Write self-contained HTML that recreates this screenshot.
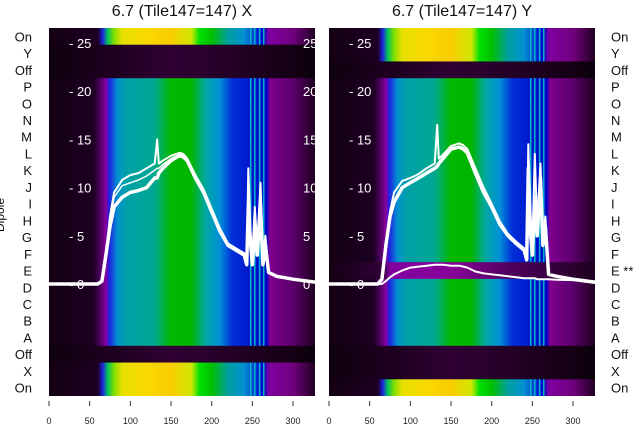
<!DOCTYPE html>
<html><head><meta charset="utf-8"><style>
html,body{margin:0;padding:0;background:#fff;}
svg{display:block;font-family:"Liberation Sans","DejaVu Sans",sans-serif;}
</style></head><body>
<svg id="chart" width="640" height="440" viewBox="0 0 640 440" xmlns="http://www.w3.org/2000/svg">
<defs id="defs"></defs>
<g id="root"></g>
</svg>
<script>
// ---- data ----
const rowLabels = ["On","Y","Off","P","O","N","M","L","K","J","I","H","G","F","E","D","C","B","A","Off","X","On"];
const rowTypesX = ["on","off","off","mid","mid","mid","mid","mid","mid","mid","mid","mid","mid","mid","mid","mid","mid","mid","mid","off","on","on"];
const rowTypesY = ["on","on","off","mid","mid","mid","mid","mid","mid","mid","mid","mid","mid","mid","faint","mid","mid","mid","mid","off","off","on"];
const xTicks = [0,50,100,150,200,250,300];
const yTicks = [0,5,10,15,20,25];
const sampleX = [0,60,65,70,75,80,90,100,110,120,130,133,135,140,150,160,165,170,180,190,200,210,220,230,240,243,245,248,250,253,256,260,263,266,270,280,300,327];
const xLow  = [0,0,0.3,3,6,8,9,9.5,9.7,10,11,11,11.5,12,12.8,13.3,13.2,12.8,11,9.5,7.5,5.5,4,3.5,3,2,8,4,2,6,3,8,2,4,1.2,0.8,0.5,0.2];
const xMid  = [0,0,0.3,3,6.5,9,10.2,10.5,10.8,11.2,11.8,12,12,12.4,13,13.4,13.3,12.9,11.1,9.6,7.6,5.6,4.1,3.6,3.1,2,10,4.5,2.5,7,3.5,9,2.5,4.5,1.2,0.8,0.5,0.2];
const xHigh = [0,0,0.3,3,7,9.5,10.8,11.3,11.5,12,12.5,15,12.5,12.8,13.3,13.6,13.5,13,11.3,9.8,7.8,5.8,4.2,3.7,3.2,2,12,5,3,8,4,10.5,3,5,1.2,0.8,0.5,0.2];
const yLow  = [0,0,0.5,4,7,8.5,10,10.5,11,11.5,12,12.2,12.5,13,14,14.2,14,13.6,11.5,9.5,8,6.2,5,4.2,3.5,2.5,12,5,3,9,5,11,4,6,1,0.8,0.5,0.2];
const yHigh = [0,0,0.5,4,7.5,9.5,10.7,11,11.4,12,12.5,16.5,13,13.4,14.3,14.6,14.4,14,12,10,8.3,6.5,5.2,4.4,3.7,2.5,14.5,6,4,13.5,6,12.5,4.5,7,1,0.8,0.5,0.2];
const yRowE = [0,0,0,0.3,0.7,1,1.4,1.7,1.8,1.9,2,2,2,2,1.9,1.9,1.8,1.7,1.3,1.1,1,0.9,0.8,0.7,0.6,0.6,0.6,0.6,0.6,0.6,0.5,0.5,0.5,0.5,0.5,0.45,0.4,0.1];

const stopsMid = [[0,"#140014"],[55,"#1c0022"],[64,"#55006a"],[70,"#8a00a0"],[74,"#2020e0"],[84,"#0090d0"],[95,"#00a0a8"],[130,"#00a890"],[150,"#00b800"],[175,"#00b400"],[192,"#00a8a0"],[210,"#0090d8"],[225,"#0030d8"],[268,"#0000c8"],[271,"#800090"],[300,"#5c006c"],[327,"#1e001e"]];
const stopsOn = [[0,"#140014"],[60,"#1c0022"],[66,"#2020e0"],[72,"#00c060"],[80,"#80e000"],[90,"#e8e000"],[120,"#f8d800"],[150,"#f8cc00"],[175,"#d0e800"],[185,"#00e000"],[200,"#00c000"],[220,"#00a0a0"],[240,"#0090d0"],[262,"#0000d0"],[271,"#8000a0"],[300,"#70007e"],[327,"#200020"]];
const stopsOff = [[0,"#0e000e"],[80,"#1e0020"],[150,"#300034"],[220,"#260028"],[300,"#140014"],[327,"#0a000a"]];
const stopsFaint = [[0,"#140014"],[66,"#300038"],[75,"#8000a0"],[150,"#8a009a"],[220,"#500060"],[327,"#1e001e"]];
const stripeX = [247,252,258,263];

const NS="http://www.w3.org/2000/svg";
const root=document.getElementById('root');
const defs=document.getElementById('defs');
function mk(tag,attrs,parent){const e=document.createElementNS(NS,tag);for(const k in attrs)e.setAttribute(k,attrs[k]);(parent||root).appendChild(e);return e;}

const TOP=28, BOT=396, RH=(BOT-TOP)/22, W=266, XMAX=327;
const y0=284, yScale=9.64;
function grad(id,stops){
  const g=mk('linearGradient',{id:id,x1:0,x2:1,y1:0,y2:0},defs);
  stops.forEach(s=>mk('stop',{offset:(s[0]/XMAX),'stop-color':s[1]},g));
}
grad('gmid',stopsMid);grad('gon',stopsOn);grad('goff',stopsOff);grad('gfaint',stopsFaint);
const gmap={mid:'gmid',on:'gon',off:'goff',faint:'gfaint'};

function panel(px,types,series,title,name,labelSide){
  const g=mk('g',{});
  
  
  const clipId='clip'+name;
  const cp=mk('clipPath',{id:clipId},defs);
  mk('rect',{x:px,y:TOP,width:W,height:BOT-TOP},cp);
  const gc=mk('g',{'clip-path':'url(#'+clipId+')'},g);
  const sx=v=>px+v*W/XMAX;
  const sy=v=>y0-v*yScale;
  types.forEach((t,i)=>{
    const r=mk('rect',{x:px,y:TOP+i*RH,width:W,height:RH+0.5,fill:'url(#'+gmap[t]+')'},gc);
    
    
    if(t==='mid'||t==='on'){
      stripeX.forEach(s=>{
        const st=mk('rect',{x:sx(s),y:TOP+i*RH,width:1.6,height:RH+0.5,fill:'#00b0c8'},gc);
        
        
      });
    }
  });
  yTicks.forEach(v=>{
    const t=mk('text',{x:px+20,y:sy(v)+5,fill:'#fff','font-size':13},gc);
    t.textContent='- '+v;
    
    
    if(labelSide==='left'){
      const t2=mk('text',{x:px+W-12,y:sy(v)+5,fill:'#fff','font-size':13},gc);
      t2.textContent=v;
      
      
    }
  });
  series.forEach((s,k)=>{
    const d=sampleX.map((x,i)=>(i?'L':'M')+sx(x).toFixed(1)+','+sy(s.v[i]).toFixed(1)).join('');
    const p=mk('path',{d:d,fill:'none',stroke:'#fff','stroke-width':s.w,'stroke-linejoin':'round'},gc);
    
    
  });
  xTicks.forEach(v=>{
    mk('line',{x1:sx(v),x2:sx(v),y1:401,y2:406,stroke:'#333','stroke-width':1},g);
    const t=mk('text',{x:sx(v),y:424,'text-anchor':'middle','font-size':9,fill:'#222'},g);
    t.textContent=v;
    
    
  });
  const tt=mk('text',{x:px+W/2,y:16,'text-anchor':'middle','font-size':16,fill:'#111'},g);
  tt.textContent=title;
  
  
  rowLabels.forEach((l,i)=>{
    const y=TOP+(i+0.5)*RH+5;
    const t = labelSide==='left'
      ? mk('text',{x:32,y:y,'text-anchor':'end','font-size':13,fill:'#111'},g)
      : mk('text',{x:611,y:y,'font-size':13,fill:'#111'},g);
    t.textContent=(labelSide==='right'&&l==='E')?'E **':l;
    
    
  });
}
panel(49,rowTypesX,[{v:xLow,w:3.5},{v:xMid,w:1.5},{v:xHigh,w:2}],'6.7 (Tile147=147) X','panel-x','left');
panel(329,rowTypesY,[{v:yLow,w:3.5},{v:yHigh,w:2},{v:yRowE,w:2}],'6.7 (Tile147=147) Y','panel-y','right');
const yl=mk('text',{x:0,y:0,transform:'translate(4,215) rotate(-90)','text-anchor':'middle','font-size':12,fill:'#111'});
yl.textContent='Dipole';


</script>
</body></html>
